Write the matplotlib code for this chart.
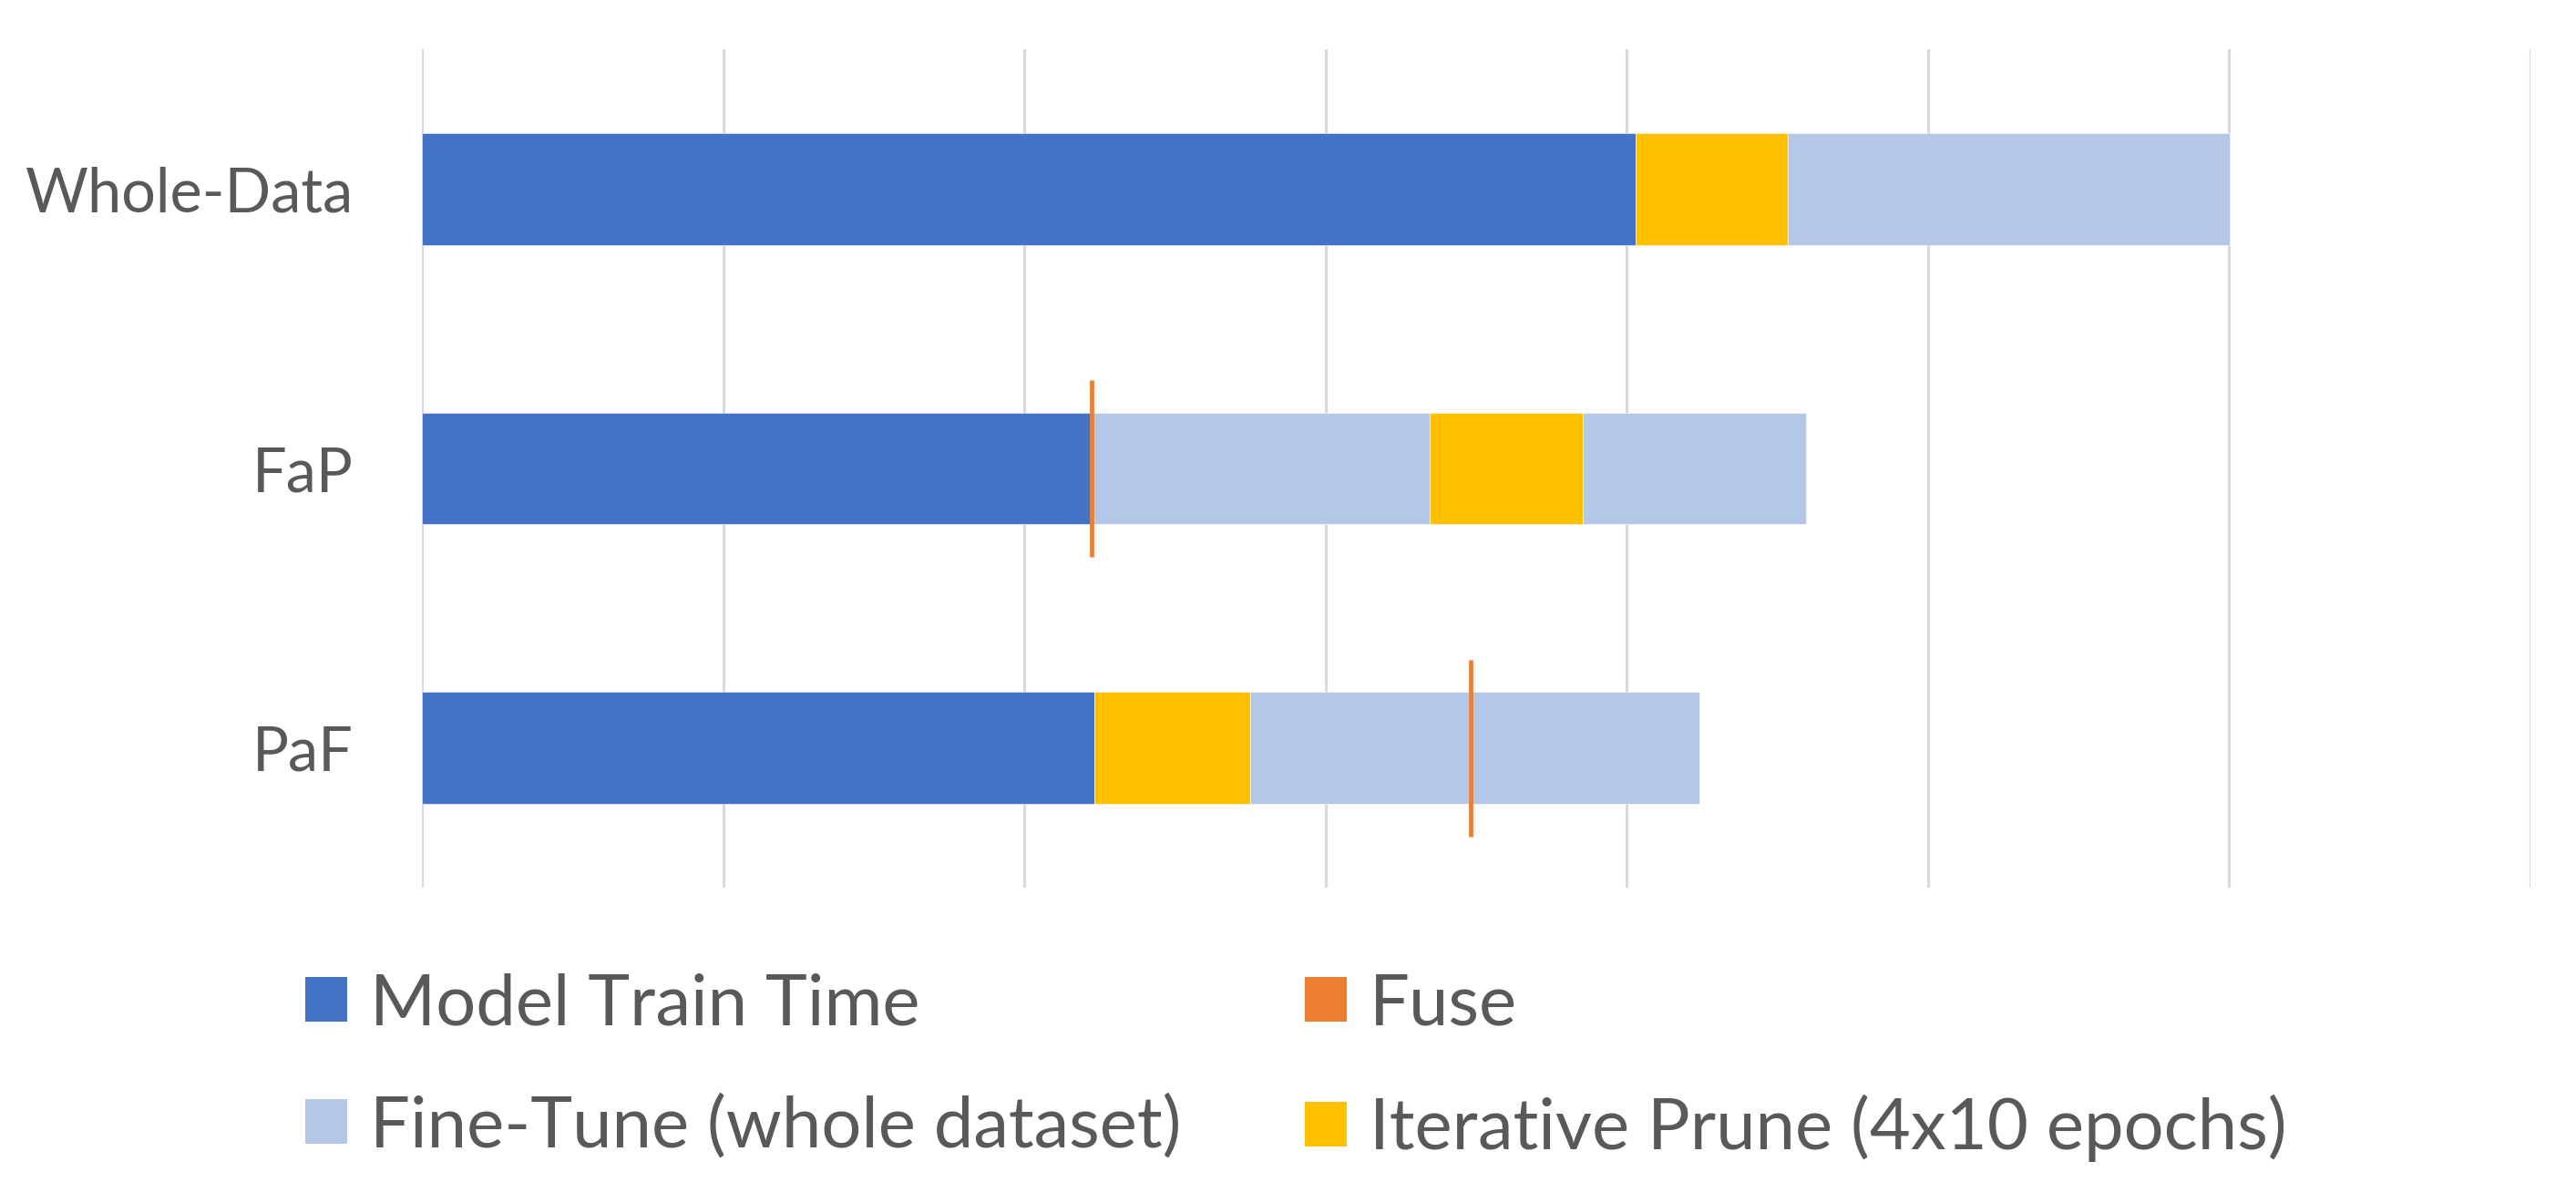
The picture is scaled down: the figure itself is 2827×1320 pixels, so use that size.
import matplotlib
matplotlib.use('agg')
import matplotlib.pyplot as plt
from matplotlib.patches import Patch
import numpy as np

# bars from top to bottom, each a list of (stage, duration) in stacking order
categories = ['Whole-Data', 'FaP', 'PaF']
whole_data = [('train', 4.03), ('prune', 0.505), ('tune', 1.467)]
fap = [('train', 2.222), ('fuse', 0.0), ('tune', 1.123), ('prune', 0.509), ('tune', 0.741)]
paf = [('train', 2.231), ('prune', 0.518), ('tune', 0.733), ('fuse', 0.0), ('tune', 0.759)]
bars = [whole_data, fap, paf]

stage_names = {
    'train': 'Model Train Time',
    'fuse': 'Fuse',
    'tune': 'Fine-Tune (whole dataset)',
    'prune': 'Iterative Prune (4x10 epochs)',
}
colors = {'train': '#4472C4', 'fuse': '#ED7D31', 'tune': '#B4C7E7', 'prune': '#FFC000'}
text_col = '#595959'

plt.rcParams['font.family'] = ['Lato', 'DejaVu Sans']

fig = plt.figure(figsize=(28.27, 13.2), dpi=100)
ax = fig.add_axes([463 / 2827, 1 - 974 / 1320, (2777 - 463) / 2827, (974 - 54) / 1320])

ypos = np.arange(len(categories))
for y, segs in zip(ypos, bars):
    left = 0.0
    for stage, w in segs:
        if stage == 'fuse':
            ax.vlines(left, y - 0.316, y + 0.316, color=colors['fuse'], lw=3.4, zorder=4)
        else:
            ax.barh(y, w, left=left, height=0.4, color=colors[stage],
                    edgecolor='white', linewidth=0.4, zorder=3)
        left += w

ax.set_xlim(0, 7)
ax.set_ylim(len(categories) - 0.5, -0.5)
ax.set_xticks(np.arange(0, 8))
ax.set_xticklabels([])
ax.set_yticks(ypos)
ax.set_yticklabels(categories, fontsize=48, color=text_col)
ax.tick_params(axis='both', length=0)
ax.tick_params(axis='y', pad=54)
ax.grid(axis='x', color='#D9D9D9', lw=2.2, zorder=0)
for s in ax.spines.values():
    s.set_visible(False)

order = ['train', 'tune', 'fuse', 'prune']
handles = [Patch(facecolor=colors[k], label=stage_names[k]) for k in order]
leg = fig.legend(handles=handles, ncol=2, loc='center left',
                 bbox_to_anchor=(335 / 2827, 1 - 1171 / 1320),
                 frameon=False, fontsize=56, borderpad=0, borderaxespad=0,
                 handlelength=0.59, handleheight=0.59, handletextpad=0.32,
                 columnspacing=1.75, labelspacing=0.8)
for t in leg.get_texts():
    t.set_color(text_col)

fig.savefig('out.png', dpi=100, facecolor='white')
